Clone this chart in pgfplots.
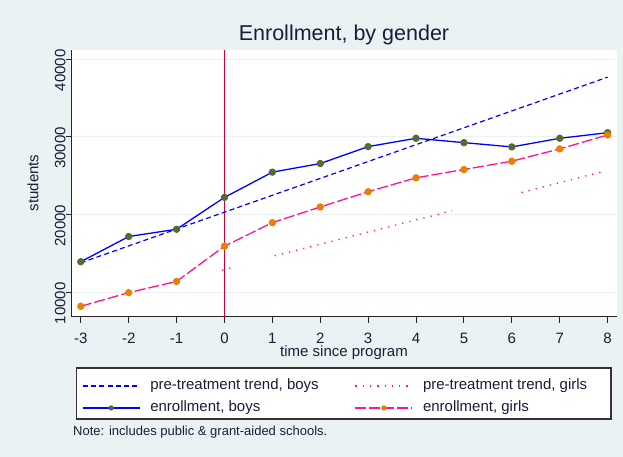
\documentclass[border=0pt]{standalone}
\usepackage{pgfplots}
\pgfplotsset{compat=1.18}
\usepackage{fontspec}
\setmainfont{Liberation Sans}
\definecolor{bg}{RGB}{234,242,243}
\definecolor{txt}{RGB}{25,30,55}
\definecolor{boys}{RGB}{0,0,255}
\definecolor{girls}{RGB}{255,20,147}
\definecolor{mgreen}{RGB}{85,107,47}
\definecolor{morange}{RGB}{232,128,0}
\definecolor{vred}{RGB}{204,0,51}
\begin{document}
\begin{tikzpicture}[x=1bp,y=1bp]
\fill[bg] (0,0) rectangle (623,457);
\path[use as bounding box] (0,0) rectangle (623,457);
\filldraw[fill=white, draw=black!80, line width=1.2bp] (76.7,38) rectangle (611,89);
\node[text=txt, font=\fontsize{21.5bp}{24bp}\selectfont] at (344,422) {Enrollment, by gender};
\node[text=txt, font=\fontsize{15bp}{18bp}\selectfont, rotate=90] at (33,274) {students};
\node[text=txt, font=\fontsize{15bp}{18bp}\selectfont] at (344,104) {time since program};
\node[text=txt, font=\fontsize{13bp}{16bp}\selectfont, anchor=west, inner sep=0pt] at (73,25) {Note: includes public \& grant-aided schools.};
\begin{axis}[
  at={(71.7bp,140.3bp)}, anchor=south west, scale only axis,
  width=545bp, height=266.7bp,
  xmin=-3.19, xmax=8.19, ymin=6860, ymax=41200,
  axis lines=left, axis line style={-, black!85, line width=1.2bp},
  xtick={-3,...,8}, ytick={10000,20000,30000,40000},
  tick align=outside, major tick length=6bp,
  tick style={black!85, line width=1bp},
  ymajorgrids, grid style={bg, line width=1bp},
  axis background/.style={fill=white},
  scaled y ticks=false,
  /pgf/number format/assume math mode=true,
  /pgf/number format/1000 sep={},
  ticklabel style={font=\fontsize{15bp}{18bp}\selectfont, text=txt},
  yticklabel style={rotate=90, anchor=south, inner sep=0pt, xshift=-11bp},
  xticklabel style={inner sep=0pt, anchor=north, yshift=-10bp},
  legend columns=2,
  legend cell align=left,
  legend style={at={(axis description cs:0.0189,-0.2335)}, anchor=north west,
    draw=none, fill=none, inner sep=0pt, outer sep=0pt,
    font=\fontsize{15bp}{18bp}\selectfont, text=txt,
    row sep=8bp, column sep=10bp,
    nodes={inner sep=0pt, text height=11bp, text depth=3bp},
    /tikz/column 2/.style={column sep=36bp}},
  legend image code/.code={\draw[mark repeat=2, mark phase=2, #1, mark size=2bp] plot coordinates {(0bp,0bp) (28.5bp,0bp) (57bp,0bp)};},
]
\addplot[vred, line width=1.3bp, forget plot] coordinates {(0,6860) (0,41200)};
\addplot[boys, line width=1.2bp, dash pattern=on 5bp off 3.3bp] coordinates {(-3,13800) (8,37700)};
\addlegendentry{pre-treatment trend, boys}
\addplot[girls, line width=1.3bp, dash pattern=on 1.3bp off 6bp, unbounded coords=jump] coordinates {(-0.05,12850) (0.2,13250) (0.6,nan) (1.05,14700) (4.75,20500) (5.5,nan) (6.2,22850) (7.9,25550)};
\addlegendentry{pre-treatment trend, girls}
\addplot[boys, line width=1.3bp, mark=*, mark size=3bp, mark options={fill=mgreen, draw=mgreen, solid}] coordinates {
(-3,13940) (-2,17180) (-1,18120) (0,22220) (1,25470) (2,26580) (3,28760) (4,29830) (5,29270) (6,28720) (7,29830) (8,30550)};
\addlegendentry{enrollment, boys}
\addplot[girls, line width=1.3bp, dash pattern=on 11bp off 3bp, mark=*, mark size=3bp, mark options={fill=morange, draw=morange, solid}] coordinates {
(-3,8200) (-2,9960) (-1,11400) (0,15940) (1,18970) (2,20990) (3,22950) (4,24740) (5,25810) (6,26880) (7,28460) (8,30260)};
\addlegendentry{enrollment, girls}
\end{axis}
\end{tikzpicture}
\end{document}
